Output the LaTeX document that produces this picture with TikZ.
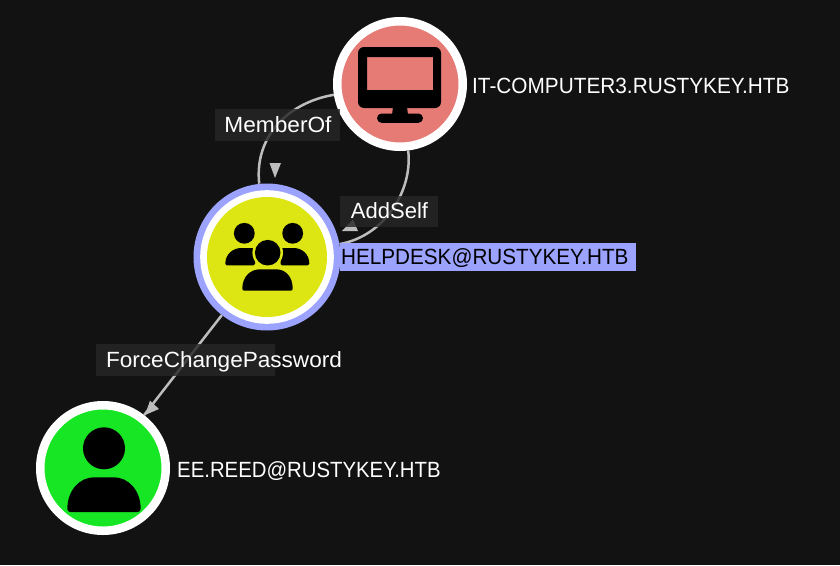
\documentclass[tikz,border=0pt]{standalone}
\usepackage{fontspec}
\setmainfont{Liberation Sans}
\definecolor{bg}{HTML}{121212}
\definecolor{edgecol}{HTML}{BDBDBD}
\definecolor{labbox}{HTML}{262626}
\definecolor{compfill}{HTML}{E67A75}
\definecolor{groupfill}{HTML}{DDE612}
\definecolor{userfill}{HTML}{17E625}
\definecolor{hl}{HTML}{9BA3FF}
\newcommand{\xsq}[2]{\scalebox{#1}[1]{#2}}
\tikzset{
  disc/.style={circle,draw=white,inner sep=0pt,line width=8.5pt,minimum size=#1},
  edgeline/.style={draw=edgecol,line width=2.5pt},
  tip/.style={fill=edgecol,draw=none},
  labelbox/.style={fill=labbox,fill opacity=.82,draw=none},
  edgetext/.style={text=white,font=\fontsize{22}{24}\selectfont,inner sep=0pt,anchor=base},
  nametext/.style={text=white,font=\fontsize{22}{24}\selectfont,inner sep=0pt,anchor=base west},
}
\begin{document}
\begin{tikzpicture}[x=1pt,y=-1pt]
\useasboundingbox (0,0) rectangle (840,565);
\fill[bg] (0,0) rectangle (840,565);
% nodes
\node[disc=125.5pt,fill=compfill] (comp) at (400,84) {};
\node[circle,fill=hl,inner sep=0pt,minimum size=147pt] (help) at (267,257) {};
\node[disc=125.5pt,fill=userfill] (user) at (103,468) {};
\fill[white] (help.center) circle (66.8);
\fill[groupfill] (help.center) circle (60);
% connectors
\draw[edgeline] (comp) .. controls (290,102) and (254,135) .. (help);
\draw[edgeline] (comp) .. controls (413,190) and (385,236) .. (help);
\draw[edgeline] (help) -- (user);
% arrowheads
\fill[tip] (269.5,163) -- (281,163) -- (275,178) -- cycle;
\fill[tip] (342,231) -- (358,231) -- (353,219.5) -- cycle;
\fill[tip] (145,415) -- (150,400.7) -- (159,409) -- cycle;
% edge labels
\fill[labelbox] (215,109) rectangle (340,141);
\node[edgetext] (l1) at (278,132.5) {\xsq{1.03}{MemberOf}};
\fill[labelbox] (340,196) rectangle (438,227);
\node[edgetext] (l2) at (389.5,218) {AddSelf};
\fill[labelbox] (96,344) rectangle (275,376);
\node[edgetext] (l3) at (224,367.7) {\xsq{1.026}{ForceChangePassword}};
% names
\node[nametext] (n1) at (472,93) {\xsq{.945}{IT-COMPUTER3.RUSTYKEY.HTB}};
\fill[hl] (340,243) rectangle (636,270.5);
\node[nametext,text=black] (n2) at (341,264) {\xsq{.94}{HELPDESK@RUSTYKEY.HTB}};
\node[nametext] (n3) at (177,477) {\xsq{.925}{EE.REED@RUSTYKEY.HTB}};
% computer icon
\fill[black,even odd rule,rounded corners=6pt] (358,47) rectangle (441,108)
  [sharp corners] (367,57) rectangle (433,90);
\fill[black] (393,107) -- (407,107) -- (408,115) -- (392,115) -- cycle;
\fill[black,rounded corners=4.6pt] (377,113.5) rectangle (423,122.8);
% group icon
\fill[black] (244.3,233.3) circle (10.4);
\fill[black] (292.7,233.3) circle (10.4);
\fill[black,rounded corners=1.5pt] (225.3,265.3) .. controls (225.3,254) and (233,248) .. (243,248) -- (255,248) -- (255,265.3) -- cycle;
\fill[black,rounded corners=1.5pt] (309.3,265.3) .. controls (309.3,254) and (302,248) .. (292,248) -- (280.5,248) -- (280.5,265.3) -- cycle;
\fill[groupfill] (267.7,252.7) circle (15.3);
\fill[black] (267.7,252.7) circle (12.8);
\fill[black,rounded corners=2pt] (242.3,290.7) .. controls (242.3,277) and (250,269.3) .. (262,269.3) -- (274,269.3) .. controls (286,269.3) and (292.7,277) .. (292.7,290.7) -- cycle;
% user icon
\fill[black] (104,448.3) circle (21);
\fill[black,rounded corners=3pt] (67.3,512) .. controls (67.3,490) and (80,477.3) .. (97,477.3) -- (111,477.3) .. controls (128,477.3) and (140.7,490) .. (140.7,512) -- cycle;
\end{tikzpicture}
\end{document}
